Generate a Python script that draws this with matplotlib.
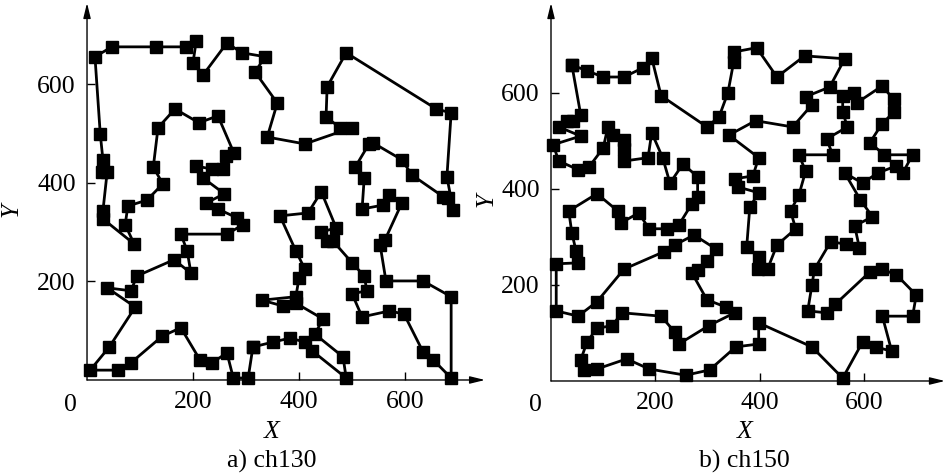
"""
Optimal tours for ch130 and ch150 (TSPLIB)
"""
import matplotlib
matplotlib.use("Agg")
import matplotlib.pyplot as plt

# tour of ch130, in visiting order
ch130_x = [313, 351, 383, 411, 425, 489, 483, 430, 445, 394,
           370, 330, 394, 400, 411, 394, 364, 417, 442, 470,
           442, 453, 464, 500, 523, 528, 500, 519, 570, 598,
           634, 653, 687, 687, 634, 564, 553, 562, 594, 570,
           559, 519, 523, 506, 532, 540, 594, 613, 672, 681,
           691, 679, 687, 659, 489, 453, 451, 477, 500, 411,
           340, 359, 317, 336, 292, 264, 219, 200, 206, 187,
           130, 47, 15, 25, 30, 28, 38, 30, 30, 89,
           72, 77, 113, 143, 125, 134, 166, 211, 247, 277,
           262, 257, 236, 206, 219, 259, 225, 247, 283, 294,
           264, 177, 189, 196, 164, 94, 83, 38, 91, 42,
           6, 58, 83, 142, 177, 213, 236, 264, 276, 304]
ch130_y = [67, 77, 85, 77, 59, 4, 47, 93, 124, 156,
           150, 162, 169, 207, 225, 262, 333, 339, 382, 309,
           300, 282, 282, 238, 211, 181, 175, 128, 140, 134,
           57, 41, 4, 169, 201, 201, 274, 284, 359, 376,
           355, 347, 410, 432, 479, 481, 447, 416, 372, 370,
           345, 412, 542, 550, 664, 595, 534, 512, 512, 479,
           493, 562, 625, 656, 664, 684, 619, 644, 688, 676,
           676, 676, 656, 499, 447, 422, 422, 343, 327, 276,
           315, 353, 365, 398, 432, 512, 550, 522, 536, 461,
           455, 428, 428, 434, 410, 378, 359, 347, 329, 315,
           296, 296, 262, 217, 244, 211, 181, 187, 148, 67,
           20, 20, 35, 89, 106, 41, 35, 55, 4, 4]

# tour of ch150, in visiting order
ch150_x = [40, 69, 100, 140, 176, 193, 211, 299, 322, 339,
           350, 350, 394, 433, 486, 563, 534, 488, 500, 463,
           392, 341, 398, 387, 352, 358, 398, 381, 375, 398,
           396, 415, 433, 469, 459, 475, 488, 475, 540, 528,
           568, 559, 559, 580, 586, 634, 657, 657, 634, 611,
           639, 693, 674, 662, 626, 597, 563, 593, 616, 582,
           591, 565, 536, 505, 500, 492, 528, 545, 611, 634,
           662, 700, 693, 635, 653, 622, 597, 559, 500, 398,
           398, 354, 304, 258, 188, 145, 88, 63, 57, 69,
           88, 117, 136, 211, 237, 245, 302, 352, 335, 299,
           270, 281, 299, 316, 274, 237, 216, 140, 88, 52,
           10, 10, 52, 48, 40, 34, 88, 128, 134, 168,
           188, 222, 245, 270, 281, 281, 253, 228, 214, 193,
           186, 140, 140, 140, 119, 109, 100, 73, 52, 15,
           4, 57, 15, 31, 42, 57]
ch150_y = [658, 646, 633, 633, 652, 673, 594, 529, 550, 600,
           664, 685, 694, 633, 677, 671, 612, 592, 575, 529,
           542, 512, 465, 427, 421, 404, 392, 362, 279, 258,
           233, 233, 283, 317, 354, 387, 437, 471, 471, 504,
           529, 560, 594, 600, 579, 614, 587, 560, 535, 496,
           471, 471, 433, 448, 433, 412, 433, 377, 342, 323,
           277, 285, 290, 233, 200, 146, 142, 160, 227, 233,
           221, 179, 135, 135, 62, 71, 81, 6, 71, 121,
           77, 71, 23, 12, 25, 46, 25, 23, 44, 81,
           110, 115, 142, 135, 102, 77, 115, 142, 154, 169,
           225, 231, 250, 275, 304, 283, 269, 233, 165, 135,
           146, 244, 246, 271, 308, 354, 390, 354, 329, 350,
           317, 317, 325, 369, 383, 425, 452, 412, 465, 517,
           465, 458, 483, 502, 512, 529, 485, 446, 440, 458,
           492, 510, 529, 542, 542, 554]

ticks = [200, 400, 600]

plt.rcParams['font.family'] = ['Liberation Serif', 'DejaVu Serif']
FS = 18.5


def draw_tour(ax, xs, ys, xmax, ymax):
    # close the tour
    xs = xs + xs[:1]
    ys = ys + ys[:1]
    ax.plot(xs, ys, color="black", lw=2.0, marker="s", markersize=8,
            clip_on=False, zorder=3)
    ax.set_xlim(0, xmax)
    ax.set_ylim(0, ymax)
    for s in ax.spines.values():
        s.set_visible(False)
    # axes with arrow heads
    arrow = dict(arrowstyle="-|>,head_length=0.9,head_width=0.22",
                 color="black", lw=1.0, shrinkA=0, shrinkB=0)
    ax.annotate("", xy=(1, 0), xytext=(0, 0), xycoords="axes fraction",
                arrowprops=arrow)
    ax.annotate("", xy=(0, 1), xytext=(0, 0), xycoords="axes fraction",
                arrowprops=arrow)
    ax.set_xticks(ticks)
    ax.set_yticks(ticks)
    ax.tick_params(direction="in", length=6, width=1, labelsize=FS,
                   pad=8)


fig = plt.figure(figsize=(9.5, 4.76), dpi=100)
ax1 = fig.add_axes([0.0916, 0.2017, 0.419, 0.792])
ax2 = fig.add_axes([0.58, 0.1996, 0.4147, 0.794])

draw_tour(ax1, ch130_x, ch130_y, 751, 765)
draw_tour(ax2, ch150_x, ch150_y, 755, 787)

# labels
fig.text(0.0737, 0.149, "0", fontsize=FS, ha="center", va="center")
fig.text(0.564, 0.149, "0", fontsize=FS, ha="center", va="center")
fig.text(0.286, 0.092, "X", fontsize=FS, style="italic", ha="center", va="center")
fig.text(0.784, 0.092, "X", fontsize=FS, style="italic", ha="center", va="center")
fig.text(0.0126, 0.559, "Y", fontsize=FS, style="italic", rotation=90,
         ha="center", va="center")
fig.text(0.5126, 0.58, "Y", fontsize=FS, style="italic", rotation=90,
         ha="center", va="center")
fig.text(0.286, 0.031, "a) ch130", fontsize=FS, ha="center", va="center")
fig.text(0.784, 0.031, "b) ch150", fontsize=FS, ha="center", va="center")

fig.savefig("out.png", dpi=100)
